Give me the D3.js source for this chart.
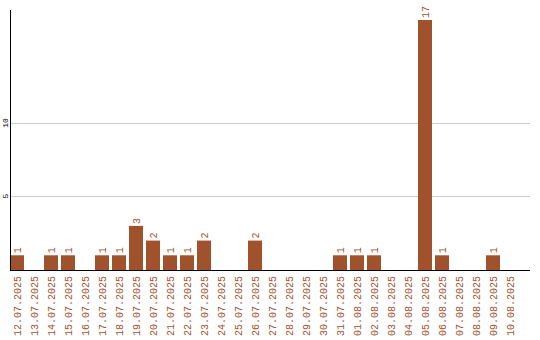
<!DOCTYPE html>
<html>
<head>
<meta charset="utf-8">
<script src="https://cdn.jsdelivr.net/npm/d3@7"></script>
<style>
  body { margin: 0; background: #fff; }
  text { font-family: "Liberation Mono", monospace; }
</style>
</head>
<body>
<svg id="chart" width="540" height="340"></svg>
<script>
var dates = ["12.07.2025","13.07.2025","14.07.2025","15.07.2025","16.07.2025","17.07.2025",
  "18.07.2025","19.07.2025","20.07.2025","21.07.2025","22.07.2025","23.07.2025","24.07.2025",
  "25.07.2025","26.07.2025","27.07.2025","28.07.2025","29.07.2025","30.07.2025","31.07.2025",
  "01.08.2025","02.08.2025","03.08.2025","04.08.2025","05.08.2025","06.08.2025","07.08.2025",
  "08.08.2025","09.08.2025","10.08.2025"];
var counts = [1,0,1,1,0,1,1,3,2,1,1,2,0,0,2,0,0,0,0,1,1,1,0,0,17,1,0,0,1,0];
var yTicks = [5, 10];

var barColor = "#a0522d";
var data = dates.map((d, i) => ({date: d, value: counts[i]}));

var svg = d3.select("#chart");

// step 17px, bar 14px
var x = d3.scaleBand()
  .domain(dates)
  .range([10, 517])
  .paddingInner(3 / 17)
  .paddingOuter(0);

var y = d3.scaleLinear()
  .domain([0, 17.68])
  .range([270, 10]);

// grid lines
svg.append("g")
  .selectAll("line")
  .data(yTicks)
  .enter().append("line")
    .attr("x1", 10)
    .attr("x2", 530)
    .attr("y1", d => Math.round(y(d)) + 0.5)
    .attr("y2", d => Math.round(y(d)) + 0.5)
    .attr("stroke", "#ccc")
    .attr("stroke-width", 1);

// y tick labels, rotated
svg.append("g")
  .selectAll("text")
  .data(yTicks)
  .enter().append("text")
    .attr("transform", d => "translate(8," + Math.round(y(d)) + ") rotate(-90)")
    .attr("text-anchor", "middle")
    .attr("font-size", "8px")
    .attr("fill", "#000")
    .text(d => d);

// bars
svg.append("g")
  .selectAll("rect")
  .data(data.filter(d => d.value > 0))
  .enter().append("rect")
    .attr("x", d => x(d.date))
    .attr("width", x.bandwidth())
    .attr("y", d => y(d.value))
    .attr("height", d => y(0) - y(d.value))
    .attr("fill", barColor);

// value labels
svg.append("g")
  .selectAll("text")
  .data(data.filter(d => d.value > 0))
  .enter().append("text")
    .attr("transform", d => "translate(" + (x(d.date) + x.bandwidth() / 2 + 4) + "," + (y(d.value) - 2) + ") rotate(-90)")
    .attr("font-size", "10px")
    .attr("fill", barColor)
    .text(d => d.value);

// axes lines
svg.append("line")
  .attr("x1", 10.5).attr("x2", 10.5)
  .attr("y1", 10).attr("y2", 271)
  .attr("stroke", "#000");
svg.append("line")
  .attr("x1", 10).attr("x2", 530)
  .attr("y1", 270.5).attr("y2", 270.5)
  .attr("stroke", "#000");

// date labels
svg.append("g")
  .selectAll("text")
  .data(dates)
  .enter().append("text")
    .attr("transform", d => "translate(" + (x(d) + x.bandwidth() / 2 + 4) + ",276) rotate(-90)")
    .attr("text-anchor", "end")
    .attr("font-size", "10px")
    .attr("fill", barColor)
    .text(d => d);
</script>
</body>
</html>
